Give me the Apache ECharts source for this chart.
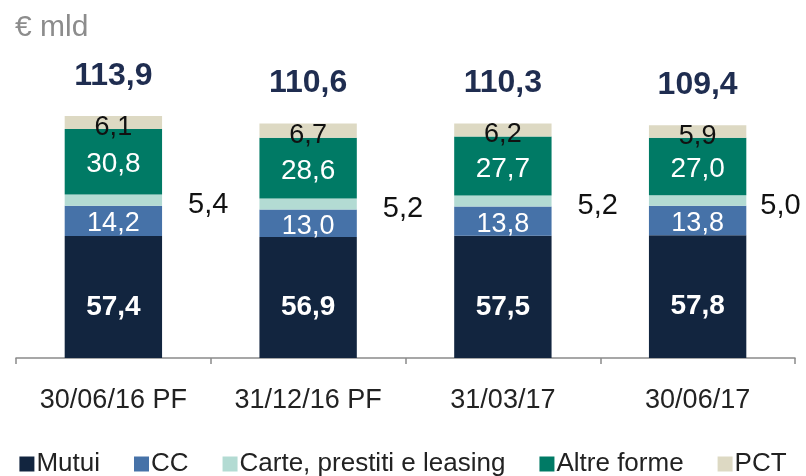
<!DOCTYPE html>
<html>
<head>
<meta charset="utf-8">
<script src="https://cdn.jsdelivr.net/npm/echarts@6/dist/echarts.min.js"></script>
<style>
html, body { margin: 0; padding: 0; background: #fff; }
#chart { width: 806px; height: 476px; }
</style>
</head>
<body>
<div id="chart"></div>
<script>
// dati (€ mld)
var categorie = ['30/06/16 PF', '31/12/16 PF', '31/03/17', '30/06/17'];
var mutui = [57.4, 56.9, 57.5, 57.8];
var cc = [14.2, 13.0, 13.8, 13.8];
var carte = [5.4, 5.2, 5.2, 5.0];
var altre = [30.8, 28.6, 27.7, 27.0];
var pct = [6.1, 6.7, 6.2, 5.9];
var totali = [113.9, 110.6, 110.3, 109.4];

var font = 'Liberation Sans';
function virgola(v) { return v.toFixed(1).replace('.', ','); }

var myChart = echarts.init(document.getElementById('chart'));

// l'ultima etichetta "Carte" va avvicinata alla barra per non uscire dal bordo
var carteData = carte.map(function (v, i) {
  if (i === carte.length - 1) {
    return { value: v, label: { distance: 14 } };
  }
  return v;
});

var option = {
  animation: false,
  textStyle: { fontFamily: font },
  title: {
    text: '€ mld',
    left: 10,
    top: 8,
    textStyle: { color: '#8c8c8c', fontSize: 30, fontWeight: 'normal', fontFamily: font }
  },
  legend: {
    bottom: -6,
    left: 'center',
    itemWidth: 15,
    itemHeight: 15,
    itemGap: 34,
    icon: 'rect',
    textStyle: { color: '#222', fontSize: 26, padding: [0, 0, 0, -3] },
    data: ['Mutui', 'CC', 'Carte, prestiti e leasing', 'Altre forme', 'PCT']
  },
  grid: { left: 16, right: 11, top: 103, bottom: 118 },
  xAxis: {
    type: 'category',
    data: categorie,
    axisLine: { lineStyle: { color: '#8a8a8a', width: 1.5 } },
    axisTick: { show: true, length: 6, lineStyle: { color: '#8a8a8a', width: 1.5 } },
    axisLabel: { color: '#222', fontSize: 27, margin: 29 }
  },
  yAxis: {
    type: 'value',
    min: 0,
    max: 120,
    show: false,
    splitLine: { show: false }
  },
  series: [
    {
      name: 'Mutui', type: 'bar', stack: 'tot', barWidth: '50%',
      itemStyle: { color: '#12253f' },
      label: { show: true, position: 'inside', color: '#fff', fontSize: 28, fontWeight: 'bold', offset: [0, 10],
        formatter: function (p) { return virgola(p.value); } },
      data: mutui
    },
    {
      name: 'CC', type: 'bar', stack: 'tot',
      itemStyle: { color: '#4672a8' },
      label: { show: true, position: 'inside', color: '#fff', fontSize: 27, offset: [0, 3],
        formatter: function (p) { return virgola(p.value); } },
      data: cc
    },
    {
      name: 'Carte, prestiti e leasing', type: 'bar', stack: 'tot',
      itemStyle: { color: '#b3dbd3' },
      label: { show: true, position: 'right', distance: 26, color: '#111', fontSize: 29, offset: [0, 5],
        formatter: function (p) { return virgola(p.value); } },
      data: carteData
    },
    {
      name: 'Altre forme', type: 'bar', stack: 'tot',
      itemStyle: { color: '#007a65' },
      label: { show: true, position: 'inside', color: '#fff', fontSize: 28, offset: [0, 3],
        formatter: function (p) { return virgola(p.value); } },
      data: altre
    },
    {
      name: 'PCT', type: 'bar', stack: 'tot',
      itemStyle: { color: '#ddd9c3' },
      label: { show: true, position: 'inside', color: '#111', fontSize: 27, offset: [0, 5],
        formatter: function (p) { return virgola(p.value); } },
      data: pct
    },
    {
      // totali sopra le barre
      name: 'Totale', type: 'bar', stack: 'tot',
      itemStyle: { color: 'transparent' },
      label: { show: true, position: 'top', distance: 24, color: '#1f2d50', fontSize: 32, fontWeight: 'bold',
        formatter: function (p) { return virgola(totali[p.dataIndex]); } },
      data: totali.map(function () { return 0; })
    }
  ]
};

myChart.setOption(option);
</script>
</body>
</html>
